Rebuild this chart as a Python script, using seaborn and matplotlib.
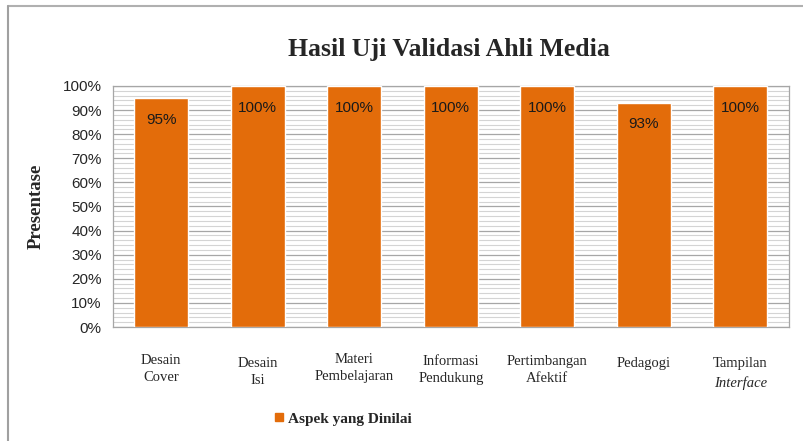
import matplotlib
matplotlib.use("Agg")
import matplotlib.pyplot as plt
import matplotlib.transforms as mtransforms
from matplotlib.lines import Line2D
from matplotlib.ticker import MultipleLocator, PercentFormatter
import seaborn as sns
import pandas as pd

# data
aspek = ["Desain Cover", "Desain Isi", "Materi Pembelajaran", "Informasi Pendukung",
         "Pertimbangan Afektif", "Pedagogi", "Tampilan Interface"]
label_baris1 = ["Desain\nCover", "Desain\nIsi", "Materi\nPembelajaran", "Informasi\nPendukung",
                "Pertimbangan\nAfektif", "Pedagogi", "Tampilan"]
nilai = [95, 100, 100, 100, 100, 93, 100]

df = pd.DataFrame({"aspek": aspek, "nilai": nilai})

oranye = "#E36C0A"
serif = "Liberation Serif"
sans = "Liberation Sans"

sns.set_style("white")
fig = plt.figure(figsize=(8.04, 4.41), dpi=100)
ax = fig.add_axes([0.1405, 0.2585, 0.8405, 0.5465])

sns.barplot(data=df, x="aspek", y="nilai", color=oranye, width=0.56,
            saturation=1, ax=ax, zorder=3)

ax.set_ylim(0, 100)
ax.set_xlim(-0.5, len(aspek) - 0.5)
ax.yaxis.set_major_locator(MultipleLocator(10))
ax.yaxis.set_minor_locator(MultipleLocator(2))
ax.yaxis.set_major_formatter(PercentFormatter(decimals=0))
ax.grid(which="major", axis="y", color="#a6a6a6", linewidth=0.9, zorder=0)
ax.grid(which="minor", axis="y", color="#d4d4d4", linewidth=0.8, zorder=0)
ax.set_axisbelow(True)
for s in ax.spines.values():
    s.set_color("#a6a6a6")
    s.set_linewidth(0.9)

ax.tick_params(axis="y", which="both", length=0, pad=8, labelsize=11)
for t in ax.get_yticklabels():
    t.set_fontfamily(sans)
ax.tick_params(axis="x", length=0)
ax.set_xticklabels([])
ax.set_xlabel("")
ax.set_ylabel("Presentase", fontfamily=serif, fontweight="bold", fontsize=13.5, labelpad=13)

# data labels inside the bars
for p, v in zip(ax.patches, nilai):
    ax.annotate(f"{v}%", (p.get_x() + p.get_width() / 2, p.get_height()),
                xytext=(0, -15.5), textcoords="offset points", ha="center", va="center",
                fontsize=11, fontfamily=sans, color="#1a1a1a", zorder=5)

# category labels (Excel style, staggered)
trans = mtransforms.blended_transform_factory(ax.transData, fig.transFigure)
pusat_y = [369, 372, 368, 370, 370, 363, 363]
for i, (lab, py) in enumerate(zip(label_baris1, pusat_y)):
    ax.text(i, 1 - py / 441, lab, transform=trans, ha="center", va="center",
            fontfamily=serif, fontsize=10.5, linespacing=1.35, clip_on=False)
ax.text(len(aspek) - 1, 1 - 383 / 441, "Interface", transform=trans, ha="center",
        va="center", fontfamily=serif, fontsize=10.5, fontstyle="italic", clip_on=False)

fig.text(0.559, 0.888, "Hasil Uji Validasi Ahli Media", ha="center", va="center",
         fontfamily=serif, fontweight="bold", fontsize=18.5)

handle = Line2D([], [], marker="s", linestyle="none", markersize=6,
                markerfacecolor=oranye, markeredgecolor=oranye)
fig.legend([handle], ["Aspek yang Dinilai"], loc="center", bbox_to_anchor=(0.424, 0.05),
           frameon=False, handletextpad=0.0, handlelength=1.2,
           prop={"family": serif, "weight": "bold", "size": 11})

# outer frame (top and left edges of the chart area)
fig.add_artist(Line2D([0.01, 1.0], [1 - 6 / 441, 1 - 6 / 441], transform=fig.transFigure,
                      color="#b0b0b0", linewidth=1.5))
fig.add_artist(Line2D([0.01, 0.01], [0, 1 - 6 / 441], transform=fig.transFigure,
                      color="#a0a0a0", linewidth=1.5))

fig.savefig("out.png", dpi=100)
